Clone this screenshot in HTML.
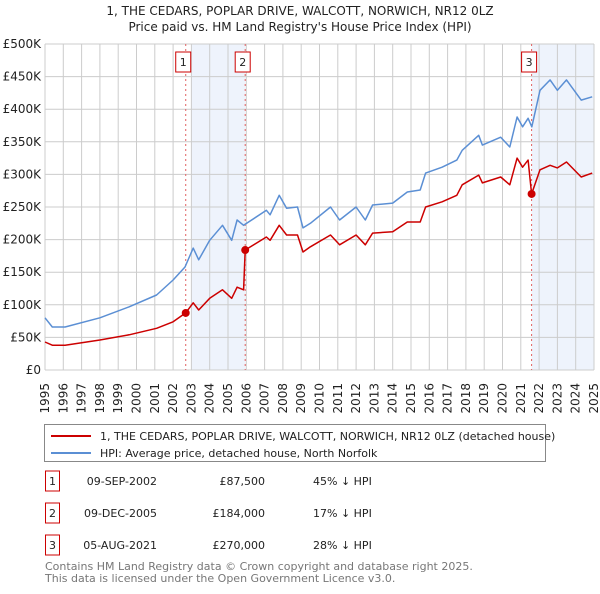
<!DOCTYPE html>
<html><head><meta charset="utf-8"><style>
body{margin:0;background:#fff;font-family:"DejaVu Sans","Liberation Sans",sans-serif;}
svg text{font-family:"DejaVu Sans","Liberation Sans",sans-serif;}
</style></head><body>
<svg id="chart" width="600" height="590" xmlns="http://www.w3.org/2000/svg">
<text x="300" y="15" font-size="12" text-anchor="middle" fill="#222">1, THE CEDARS, POPLAR DRIVE, WALCOTT, NORWICH, NR12 0LZ</text>
<text x="300" y="31" font-size="12" text-anchor="middle" fill="#222">Price paid vs. HM Land Registry's House Price Index (HPI)</text>
<g id="plot"></g>
<g>
<rect x="44.5" y="424.5" width="501" height="37" fill="#fff" stroke="#888"/>
<line x1="51" y1="436" x2="91" y2="436" stroke="#cc0000" stroke-width="2"/>
<text x="100" y="440" font-size="11" fill="#222">1, THE CEDARS, POPLAR DRIVE, WALCOTT, NORWICH, NR12 0LZ (detached house)</text>
<line x1="51" y1="453" x2="91" y2="453" stroke="#5b8fd4" stroke-width="2"/>
<text x="100" y="457" font-size="11" fill="#222">HPI: Average price, detached house, North Norfolk</text>
</g>
<g id="table" font-size="11" fill="#222"></g>
<text x="45" y="570" font-size="11" fill="#777">Contains HM Land Registry data © Crown copyright and database right 2025.</text>
<text x="45" y="582" font-size="11" fill="#777">This data is licensed under the Open Government Licence v3.0.</text>
</svg>
<script>
const hpiYears=[1995,1995.4,1996.1,1998,1999.6,2001.1,2002,2002.65,2003.1,2003.4,2004,2004.7,2005.2,2005.5,2005.85,2007.1,2007.3,2007.8,2008.2,2008.8,2009.1,2009.5,2010.6,2011.1,2012,2012.5,2012.9,2014,2014.8,2015.5,2015.8,2016.7,2017.5,2017.8,2018.7,2018.9,2019.9,2020.4,2020.8,2021.1,2021.4,2021.6,2022.05,2022.6,2023.0,2023.5,2024.3,2024.9];
const hpiValues=[80,66,66,80,97,115,138,158,187,169,199,222,199,230,222,245,238,268,248,250,218,225,250,230,250,230,253,256,273,276,302,311,322,337,360,345,357,342,388,373,386,373,429,445,429,445,414,419];
const priceYears=[1995,1995.4,1996.1,1998,1999.6,2001.1,2002,2002.69,2003.1,2003.4,2004,2004.7,2005.2,2005.5,2005.85,2005.94,2007.1,2007.3,2007.8,2008.2,2008.8,2009.1,2009.5,2010.6,2011.1,2012,2012.5,2012.9,2014,2014.8,2015.5,2015.8,2016.7,2017.5,2017.8,2018.7,2018.9,2019.9,2020.4,2020.8,2021.1,2021.4,2021.59,2022.05,2022.6,2023.0,2023.5,2024.3,2024.9];
const priceValues=[43,38,38,46,54,64,74,87.5,103,92,110,123,110,127,123,184,204,199,222,207,207,181,189,207,192,207,192,210,212,227,227,250,258,268,284,299,287,296,284,325,311,322,270,307,314,310,319,296,302];
const saleYears=[2002.69,2005.94,2021.59];
const saleValues=[87.5,184,270];
const saleLabels=["1","2","3"];
const saleDates=["09-SEP-2002","09-DEC-2005","05-AUG-2021"];
const salePrices=["£87,500","£184,000","£270,000"];
const saleDiffs=["45% ↓ HPI","17% ↓ HPI","28% ↓ HPI"];
const yTicks=[0,50,100,150,200,250,300,350,400,450,500];
const yTickLabels=["£0","£50K","£100K","£150K","£200K","£250K","£300K","£350K","£400K","£450K","£500K"];
const xTicks=[1995,1996,1997,1998,1999,2000,2001,2002,2003,2004,2005,2006,2007,2008,2009,2010,2011,2012,2013,2014,2015,2016,2017,2018,2019,2020,2021,2022,2023,2024,2025];

const NS="http://www.w3.org/2000/svg";
const L=45,R=594,T=44,B=370;
const X=y=>L+(y-1995)/(2025-1995)*(R-L);
const Y=v=>B-v/500*(B-T);
const g=document.getElementById('plot');
function mk(tag,attrs,parent){const e=document.createElementNS(NS,tag);for(const k in attrs)e.setAttribute(k,attrs[k]);(parent||g).appendChild(e);return e;}
let sh=mk('rect',{x:X(2003.0),y:T,width:X(saleYears[1])-X(2003.0),height:B-T,fill:'#eef3fc'});


let sh2=mk('rect',{x:X(saleYears[2]),y:T,width:R-X(saleYears[2]),height:B-T,fill:'#eef3fc'});


xTicks.forEach(t=>{const l=mk('line',{x1:X(t),x2:X(t),y1:T,y2:B,stroke:'#cccccc','stroke-width':1});


const tx=mk('text',{x:X(t)+4,y:383,'font-size':12,'text-anchor':'end',fill:'#222',transform:`rotate(-90 ${X(t)+4} 383)`});


tx.textContent=t;});
yTicks.forEach((t,i)=>{const l=mk('line',{x1:L,x2:R,y1:Y(t),y2:Y(t),stroke:'#cccccc','stroke-width':1});


const tx=mk('text',{x:41,y:Y(t)+4,'font-size':12,'text-anchor':'end',fill:'#222'});


tx.textContent=yTickLabels[i];});
saleYears.forEach((s,i)=>{const l=mk('line',{x1:X(s),x2:X(s),y1:T,y2:B,stroke:'#e06060','stroke-width':1,'stroke-dasharray':'2,3'});


const bx=mk('rect',{x:X(s)-10,y:52,width:15,height:20,fill:'#fff',stroke:'#cc0000'});


const tx=mk('text',{x:X(s)-2.5,y:66,'font-size':11,'text-anchor':'middle',fill:'#222'});


tx.textContent=saleLabels[i];});
const pts=(xs,vs)=>xs.map((x,i)=>X(x).toFixed(1)+','+Y(vs[i]).toFixed(1)).join(' ');
const h=mk('polyline',{points:pts(hpiYears,hpiValues),fill:'none',stroke:'#5b8fd4','stroke-width':1.5,'stroke-linejoin':'round'});


const p=mk('polyline',{points:pts(priceYears,priceValues),fill:'none',stroke:'#cc0000','stroke-width':1.5,'stroke-linejoin':'round'});


saleYears.forEach((s,i)=>{const c=mk('circle',{cx:X(s),cy:Y(saleValues[i]),r:4,fill:'#cc0000'});

});
const tb=document.getElementById('table');
const rowsY=[481,513,545];
saleLabels.forEach((lab,i)=>{const y=rowsY[i];
const b=mk('rect',{x:45.5,y:y-10,width:14,height:20,fill:'#fff',stroke:'#cc0000'},tb);


const a=mk('text',{x:52.5,y:y+4,'text-anchor':'middle'},tb);a.textContent=lab;


const d=mk('text',{x:157,y:y+4,'text-anchor':'end'},tb);d.textContent=saleDates[i];


const pr=mk('text',{x:265,y:y+4,'text-anchor':'end'},tb);pr.textContent=salePrices[i];


const df=mk('text',{x:313,y:y+4},tb);df.textContent=saleDiffs[i];

});
</script>
</body></html>
